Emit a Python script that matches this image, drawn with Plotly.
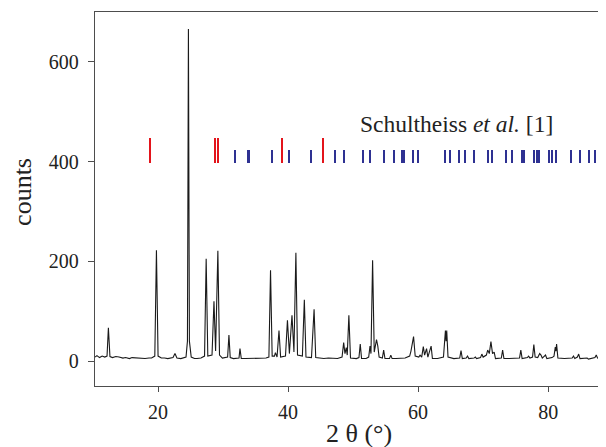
import plotly.graph_objects as go

# Measured powder pattern (2θ in degrees, counts)
two_theta = [
    10.3, 10.6, 11.0, 11.4, 11.8, 12.15, 12.36, 12.6, 13.0, 13.5, 14.0, 14.6, 15.0, 15.6, 16.0, 16.6,
    17.0, 17.6, 18.0, 18.6, 19.0, 19.5, 19.75, 20.0, 20.5, 21.0, 21.5, 22.3, 22.6, 22.9, 23.5,
    24.3, 24.52, 24.67, 24.82, 25.1, 25.6, 26.0, 26.6, 27.15, 27.4, 27.65, 28.3, 28.6, 28.85,
    29.2, 29.45, 29.9, 30.7, 30.9, 31.1, 31.6, 32.0, 32.45, 32.6, 32.8, 33.4, 34.0, 34.6, 35.0,
    35.6, 36.0, 36.6, 37.05, 37.3, 37.55, 37.9, 38.05, 38.3, 38.6, 38.85, 39.6, 39.9, 40.2,
    40.6, 40.9, 41.2, 41.45, 42.2, 42.5, 42.75, 43.6, 44.0, 44.25, 45.0, 45.5, 46.2, 47.0,
    47.6, 48.3, 48.55, 48.75, 48.95, 49.1, 49.35, 49.6, 50.0, 50.5, 50.9, 51.1, 51.3, 52.0,
    52.4, 52.6, 52.75, 53.0, 53.25, 53.6, 53.8, 54.0, 54.5, 54.7, 54.9, 55.6, 55.8, 56.0,
    56.6, 57.0, 57.6, 58.0, 58.7, 58.9, 59.3, 59.55, 60.1, 60.3, 60.55, 60.8, 61.0, 61.3,
    61.5, 62.0, 62.2, 63.0, 63.9, 64.2, 64.3, 64.4, 64.6, 65.5, 66.4, 66.6, 66.8, 67.4, 67.6,
    67.8, 68.6, 68.8, 69.0, 69.6, 69.8, 70.0, 70.5, 70.7, 70.95, 71.2, 71.45, 71.7, 71.9,
    72.8, 73.0, 73.2, 74.0, 74.5, 75.6, 75.8, 76.0, 76.8, 77.0, 77.2, 77.6, 77.8, 78.0, 78.4,
    78.7, 78.9, 79.1, 79.6, 79.8, 80.6, 80.9, 81.1, 81.2, 81.3, 81.5, 82.5, 83.7, 83.9, 84.1,
    84.5, 84.7, 84.9, 85.8, 86.0, 86.2, 87.2, 87.4, 87.6, 88.0, 88.5, 88.9,
]
counts = [
    8, 11, 7, 10, 8, 10, 67, 9, 7, 9, 8, 6, 7, 5, 7, 6,
    6, 5, 5, 6, 6, 10, 222, 10, 6, 6, 5, 7, 15, 6, 5,
    8, 40, 666, 40, 8, 5, 5, 6, 10, 205, 10, 12, 120, 20,
    221, 12, 6, 8, 52, 7, 5, 5, 6, 25, 5, 5, 5, 6, 6,
    5, 5, 6, 8, 182, 10, 10, 17, 8, 61, 8, 10, 82, 15,
    92, 18, 217, 12, 10, 123, 8, 7, 104, 7, 5, 5, 6, 6,
    5, 8, 37, 15, 27, 12, 92, 6, 5, 5, 7, 34, 5, 5,
    8, 30, 15, 202, 18, 43, 30, 8, 6, 22, 5, 5, 12, 5,
    5, 5, 6, 6, 10, 20, 49, 10, 8, 12, 8, 29, 12, 25,
    8, 30, 5, 5, 8, 61, 40, 61, 8, 5, 6, 21, 5, 6, 10,
    5, 6, 8, 5, 7, 14, 8, 12, 22, 15, 39, 15, 18, 5,
    6, 22, 5, 5, 5, 6, 22, 5, 7, 10, 6, 8, 33, 8, 7,
    15, 12, 6, 12, 5, 7, 10, 28, 20, 34, 6, 5, 6, 10, 5,
    8, 14, 5, 5, 6, 4, 7, 12, 6, 5, 5, 5,
]

# Reference reflections
red_positions = [18.77, 28.72, 29.18, 39.03, 45.33]
blue_positions = [
    31.8, 33.95, 37.6, 40.2, 43.6, 47.2, 48.7, 51.5, 52.6, 54.8, 56.4, 57.5, 57.8,
    59.3, 60.0, 64.2, 64.9, 66.3, 67.3, 68.7, 70.8, 71.4, 73.5, 74.5, 76.0, 76.3,
    77.8, 78.3, 78.7, 80.1, 80.7, 81.2, 83.5, 85.0, 86.3, 87.3, 88.0,
]
tick_base = 398
red_height = 50
blue_height = 26

x_ticks = [20, 40, 60, 80]
y_ticks = [0, 200, 400, 600]

FONT = "Liberation Serif, Times New Roman, serif"
AXIS_COLOR = "#4d4d4d"

fig = go.Figure()
fig.add_trace(go.Scatter(
    x=two_theta, y=counts, mode="lines",
    line=dict(color="#1a1a1a", width=1.1), showlegend=False, hoverinfo="skip",
))
fig.add_trace(go.Bar(
    x=red_positions, y=[red_height] * len(red_positions), base=tick_base,
    width=0.22, marker=dict(color="#e3141b", line=dict(width=0)), showlegend=False,
))
fig.add_trace(go.Bar(
    x=blue_positions, y=[blue_height] * len(blue_positions), base=tick_base,
    width=0.24, marker=dict(color="#2e3192", line=dict(width=0)), showlegend=False,
))

fig.add_annotation(
    x=65.9, y=476, xref="x", yref="y",
    text="Schultheiss <i>et al.</i> [1]", showarrow=False,
    font=dict(family=FONT, size=23.5, color="#222"), xanchor="center", yanchor="middle",
)
fig.add_annotation(
    x=0, y=0.519, xref="paper", yref="paper", xshift=-72,
    text="counts", textangle=-90, showarrow=False, borderpad=0,
    font=dict(family=FONT, size=26, color="#222"), xanchor="center", yanchor="middle",
)
fig.add_annotation(
    x=0.517, y=0, xref="paper", yref="paper", yshift=-47,
    text="2 θ (°)", showarrow=False,
    font=dict(family=FONT, size=26, color="#222"), xanchor="center", yanchor="middle",
)

# The page body adds an 8 px offset, so the figure is 8 px smaller than the window.
fig.update_layout(
    width=598, height=439,
    margin=dict(l=87, r=0, t=4, b=61, pad=0),
    paper_bgcolor="white", plot_bgcolor="white",
    barmode="overlay", bargap=0,
    font=dict(family=FONT, size=20, color="#222"),
)
fig.update_xaxes(
    range=[10.3, 88.9], tickvals=x_ticks, ticks="outside", ticklen=5, tickwidth=1.2,
    tickcolor=AXIS_COLOR, showline=True, linecolor=AXIS_COLOR, linewidth=1.3,
    mirror=True, showgrid=False, zeroline=False, tickfont=dict(family=FONT, size=20),
    ticklabelstandoff=3,
)
fig.update_yaxes(
    range=[-50, 700], tickvals=y_ticks, ticks="outside", ticklen=6, tickwidth=1.2,
    tickcolor=AXIS_COLOR, showline=True, linecolor=AXIS_COLOR, linewidth=1.3,
    mirror=False, showgrid=False, zeroline=False, tickfont=dict(family=FONT, size=20),
    ticklabelstandoff=5,
)

fig.write_html("out.html")
